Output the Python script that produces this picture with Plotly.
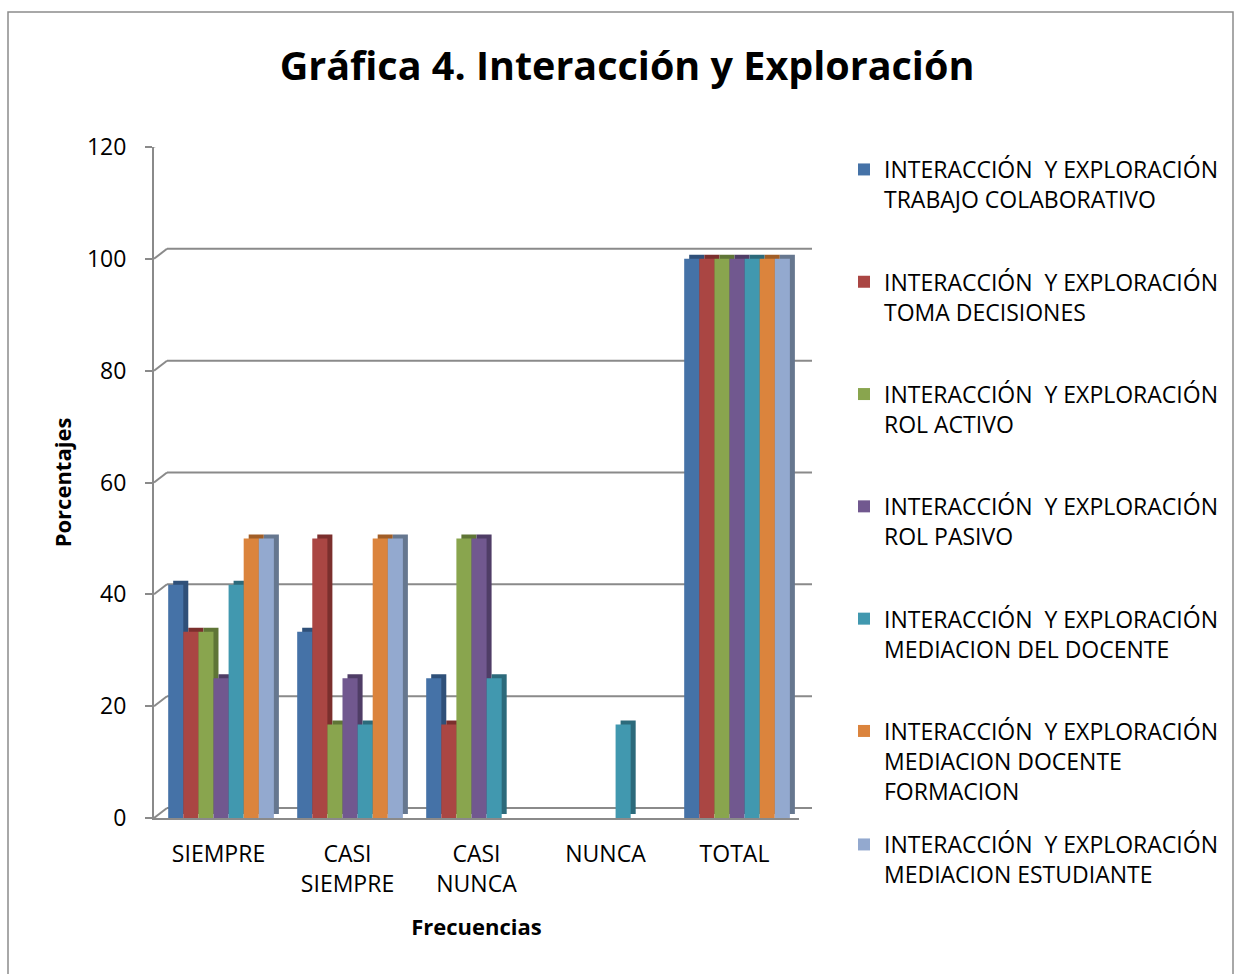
import plotly.graph_objects as go

categories = ["SIEMPRE", "CASI<br>SIEMPRE", "CASI<br>NUNCA", "NUNCA", "TOTAL"]

series_names = [
    "INTERACCIÓN  Y EXPLORACIÓN<br>TRABAJO COLABORATIVO",
    "INTERACCIÓN  Y EXPLORACIÓN<br>TOMA DECISIONES",
    "INTERACCIÓN  Y EXPLORACIÓN<br>ROL ACTIVO",
    "INTERACCIÓN  Y EXPLORACIÓN<br>ROL PASIVO",
    "INTERACCIÓN  Y EXPLORACIÓN<br>MEDIACION DEL DOCENTE",
    "INTERACCIÓN  Y EXPLORACIÓN<br>MEDIACION DOCENTE<br>FORMACION",
    "INTERACCIÓN  Y EXPLORACIÓN<br>MEDIACION ESTUDIANTE",
]

trabajo_colaborativo = [41.7, 33.3, 25.0, 0.0, 100.0]
toma_decisiones = [33.3, 50.0, 16.7, 0.0, 100.0]
rol_activo = [33.3, 16.7, 50.0, 0.0, 100.0]
rol_pasivo = [25.0, 25.0, 50.0, 0.0, 100.0]
mediacion_docente = [41.7, 16.7, 25.0, 16.7, 100.0]
mediacion_docente_formacion = [50.0, 50.0, 0.0, 0.0, 100.0]
mediacion_estudiante = [50.0, 50.0, 0.0, 0.0, 100.0]

series_values = [
    trabajo_colaborativo, toma_decisiones, rol_activo, rol_pasivo,
    mediacion_docente, mediacion_docente_formacion, mediacion_estudiante,
]

colors = ["#4572A7", "#AA4643", "#89A54E", "#71588F", "#4198AF", "#DB843D", "#93A9CF"]
depth_colors = ["#2f5079", "#7b2f2d", "#5f7536", "#4f3d66", "#2c6a7b", "#a15e27", "#66778f"]

y_ticks = [0, 20, 40, 60, 80, 100, 120]

FONT = "Open Sans"
GRID = "#8a8a8a"
L, R, T, B = 154, 1235 - 799, 147, 974 - 818
PW, PH = 1235 - L - R, 974 - T - B
DX, DY = 13, 10  # 3D wall depth in pixels

# bar geometry (style): width / offsets in category units, 3D extrusion
BAR_W = 15.1 / 129
GROUP_START = -0.39
EXT_X = 5 / 129
EXT_Y = 4 * 120 / PH

fig = go.Figure()
# extrusion (side + top faces) drawn first
for i, vals in enumerate(series_values):
    fig.add_trace(go.Bar(
        x=categories, y=vals, base=EXT_Y, width=BAR_W,
        offset=GROUP_START + i * BAR_W + EXT_X,
        marker=dict(color=depth_colors[i], line=dict(width=0)),
        showlegend=False, hoverinfo="skip",
    ))
# front faces
for i, (name, vals) in enumerate(zip(series_names, series_values)):
    fig.add_trace(go.Bar(
        x=categories, y=vals, name=name, width=BAR_W,
        offset=GROUP_START + i * BAR_W,
        marker=dict(color=colors[i], line=dict(width=0)),
        legendgroup=f"g{i}",
        legend="legend2" if i == 6 else "legend",
    ))

# back wall gridlines with perspective slant (pixel offsets anchored at tick values)
for v in y_ticks:
    fig.add_shape(type="line", xref="paper", yref="y",
                  xsizemode="pixel", xanchor=0, x0=0, x1=DX,
                  ysizemode="pixel", yanchor=v, y0=0, y1=DY,
                  line=dict(color=GRID, width=2), layer="below")
    fig.add_shape(type="line", xref="paper", yref="y",
                  xsizemode="pixel", xanchor=0, x0=DX, x1=PW + DX,
                  ysizemode="pixel", yanchor=v, y0=DY, y1=DY,
                  line=dict(color=GRID, width=2), layer="below")

legend_common = dict(
    x=(844 - L) / PW, xanchor="left", yanchor="top",
    font=dict(family=FONT, size=23, color="black"),
    tracegroupgap=49.5, valign="top", itemwidth=30,
    bgcolor="rgba(0,0,0,0)", maxheight=1.0,
)

fig.update_layout(
    width=1235, height=974,
    margin=dict(l=L, r=R, t=T, b=B, autoexpand=False),
    paper_bgcolor="white", plot_bgcolor="rgba(0,0,0,0)",
    barmode="overlay",
    font=dict(family=FONT, color="black", size=23),
    title=dict(text="<b>Gráfica 4. Interacción y Exploración</b>",
               x=627 / 1235, xref="container", xanchor="center",
               y=1 - 66 / 974, yref="container", yanchor="middle",
               font=dict(family=FONT, size=39.5, color="black")),
    legend=dict(y=1 + (T - 148) / PH, **legend_common),
    legend2=dict(y=1 + (T - 148 - 675) / PH, **legend_common),
    showlegend=True,
)

fig.update_yaxes(
    range=[0, 120], tickvals=y_ticks, ticktext=[str(v) for v in y_ticks],
    showgrid=False,
    showline=True, linecolor=GRID, linewidth=2,
    ticks="outside", ticklen=7, tickcolor=GRID, tickwidth=2,
    ticklabelstandoff=14,
    tickfont=dict(size=23), zeroline=False,
    title=dict(text="<b>Porcentajes</b>", font=dict(size=22), standoff=9),
)
fig.update_xaxes(
    showline=True, linecolor=GRID, linewidth=2,
    ticks="", ticklabelstandoff=14,
    tickfont=dict(size=23),
    title=dict(text="<b>Frecuencias</b>", font=dict(size=22), standoff=22),
)

fig.add_shape(type="rect", xref="paper", yref="paper",
              x0=(8 - L) / PW, x1=(1233 - L) / PW, y0=-B / PH - 0.05, y1=(818 - 12) / PH,
              line=dict(color="#8c8c8c", width=1.5), fillcolor="rgba(0,0,0,0)", layer="below")

fig.write_html("out.html", config={"displayModeBar": False},
               post_script="document.body.style.margin='0';document.body.style.overflow='hidden';")
